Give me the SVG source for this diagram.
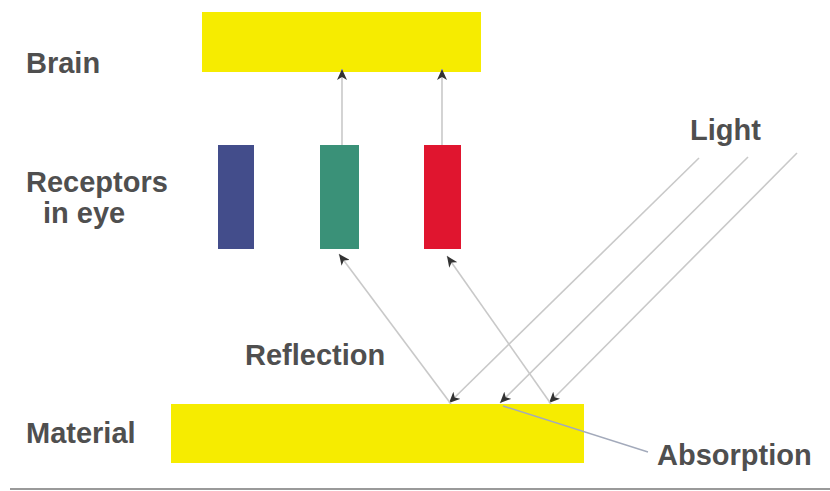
<svg xmlns="http://www.w3.org/2000/svg" width="830" height="491" viewBox="0 0 830 491">
<style>
.lbl{font-family:"Liberation Sans",Arial,sans-serif;font-weight:bold;font-size:29px;fill:#4f4f4f}
.ray{stroke:#c9c9c9;stroke-width:1.6;fill:none;marker-end:url(#ah)}
.yel{fill:#f6ec00}
</style>
<defs>
<marker id="ah" markerUnits="userSpaceOnUse" markerWidth="12" markerHeight="10" refX="11" refY="5" orient="auto">
<path d="M0,0 L11,5 L0,10 L3,5 z" fill="#333"/>
</marker>
</defs>
<rect width="830" height="491" fill="#ffffff"/>
<g id="brain"><rect class="yel" x="202" y="12" width="279" height="60"/><text class="lbl" x="26" y="73">Brain</text></g>
<g id="receptors">
<rect x="218" y="145" width="36" height="104" fill="#434d8b"/>
<rect x="320" y="145" width="39" height="104" fill="#3a9178"/>
<rect x="424" y="145" width="37" height="104" fill="#e0152f"/>
<text class="lbl" x="26" y="192">Receptors</text>
<text class="lbl" x="43" y="223">in eye</text>
</g>
<g id="material"><rect class="yel" x="171" y="404" width="413" height="59"/><text class="lbl" x="26" y="443">Material</text></g>
<g id="labels">
<text class="lbl" x="690" y="140">Light</text>
<text class="lbl" x="245" y="365">Reflection</text>
<text class="lbl" x="657" y="465">Absorption</text>
</g>
<g id="connectors">
<line class="ray" x1="342" y1="145" x2="342" y2="69"/>
<line class="ray" x1="442" y1="145" x2="442" y2="69"/>
<line class="ray" x1="699" y1="158" x2="449" y2="403"/>
<line class="ray" x1="748" y1="157" x2="500" y2="403"/>
<line class="ray" x1="797" y1="153" x2="549" y2="403"/>
<line class="ray" x1="451" y1="404" x2="339" y2="254"/>
<line class="ray" x1="551" y1="404" x2="447" y2="256"/>
<line x1="503" y1="406" x2="648" y2="452" stroke="#a3aabb" stroke-width="1.4"/>
<line x1="10" y1="489" x2="830" y2="489" stroke="#9a9a9a" stroke-width="2"/>
</g>
</svg>
